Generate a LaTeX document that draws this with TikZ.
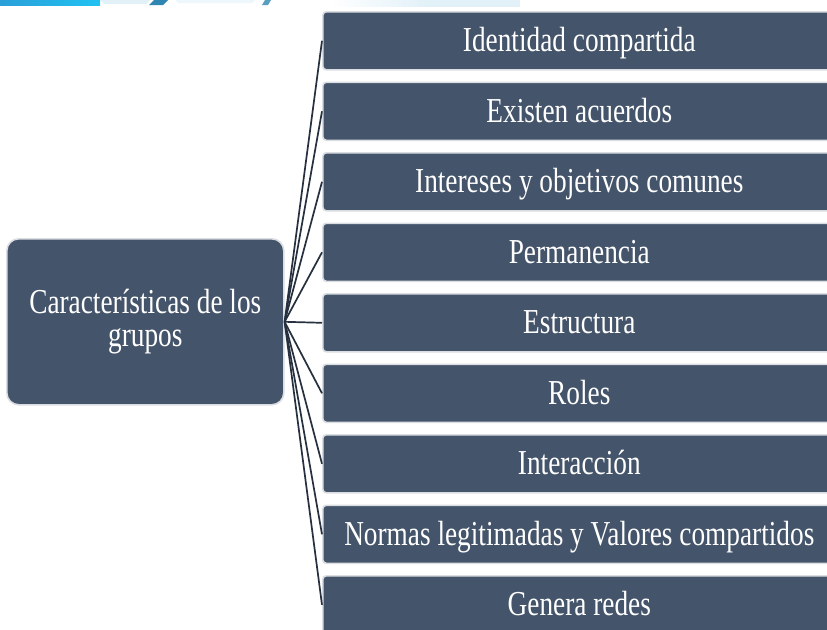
\documentclass[tikz,border=0pt]{standalone}
\usepackage{fontspec}
\setmainfont{Liberation Serif}[FakeStretch=0.78]
\definecolor{boxfill}{HTML}{44546A}
\definecolor{linecol}{HTML}{26303F}
\definecolor{glow}{HTML}{DADDE2}
\definecolor{cyanA}{HTML}{2A9FD8}
\definecolor{cyanB}{HTML}{20C2F2}
\definecolor{teal}{HTML}{2F86B0}
\definecolor{pale}{HTML}{E2F1F8}
\tikzset{
  itembox/.style={rectangle, rounded corners=3.5pt, fill=boxfill, draw=glow, line width=1.6pt,
    minimum width=513pt, minimum height=58pt, anchor=north west, inner sep=0pt,
    text=white, font=\fontsize{35}{33}\selectfont, text height=24pt, text depth=2pt},
  mainbox/.style={rectangle, rounded corners=12pt, fill=boxfill, draw=glow, line width=1.6pt,
    minimum width=277pt, minimum height=166pt, anchor=north west, inner sep=0pt,
    text=white, font=\fontsize{35}{33}\selectfont, align=center},
  conn/.style={draw=linecol, line width=1.7pt}
}
\begin{document}
\begin{tikzpicture}[x=1pt,y=-1pt]
\useasboundingbox (0,0) rectangle (827,629);
\fill[white] (0,0) rectangle (827,629);
% top decoration
\shade[left color=cyanA, right color=cyanB] (0,0) rectangle (100,5.5);
\fill[pale] (100,0) -- (150,0) -- (146,4) -- (104,4) -- cycle;
\fill[teal] (154,0) -- (168,0) -- (163,5) -- (149,5) -- cycle;
\fill[pale!60] (175,0) -- (255,0) -- (252,3) -- (178,3) -- cycle;
\fill[teal!80] (265,0) -- (271,0) -- (268,5) -- (262,5) -- cycle;
\shade[left color=white, right color=pale, middle color=pale] (330,0) rectangle (520,6);
% main node
\node[mainbox] (L) at (6,238) {Características de los\\grupos};
% item boxes
\foreach \i/\t in {1/Identidad compartida, 2/Existen acuerdos, 3/Intereses y objetivos comunes,
  4/Permanencia, 5/Estructura, 6/Roles, 7/Interacción,
  8/Normas legitimadas y Valores compartidos, 9/Genera redes}{
  \node[itembox] (b\i) at (322,{11+(\i-1)*70.5}) {\t};
}
% connectors
\foreach \i in {1,...,9}{
  \draw[conn] (L.east) -- (b\i.west);
}
\end{tikzpicture}
\end{document}
